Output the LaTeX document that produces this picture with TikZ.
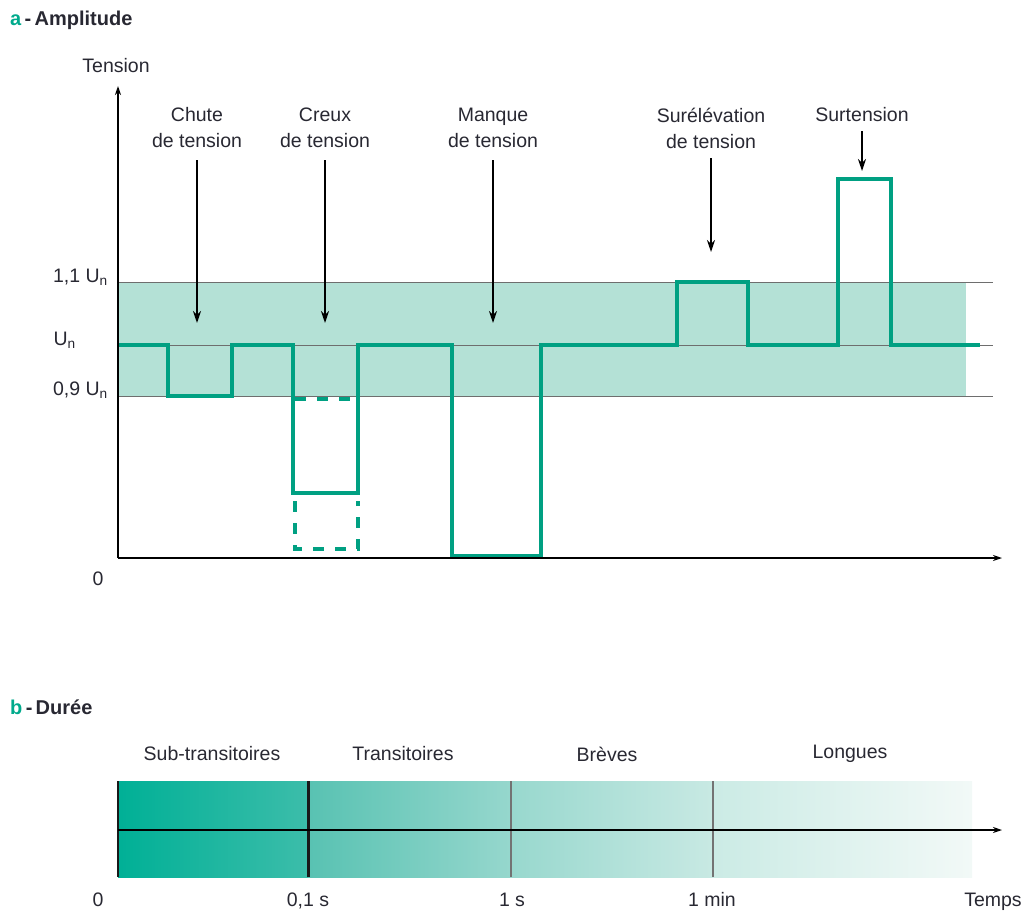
\documentclass[tikz,border=0pt]{standalone}
\usepackage{fontspec}
\setmainfont{Liberation Sans}
\usetikzlibrary{arrows.meta}
\definecolor{sig}{RGB}{0,160,130}
\definecolor{band}{RGB}{180,225,214}
\definecolor{titleg}{RGB}{0,170,140}
\definecolor{txt}{RGB}{40,40,50}
\definecolor{gline}{RGB}{110,110,110}
\tikzset{
  lbl/.style={font=\fontsize{19.5}{26}\selectfont, text=txt, align=center, inner sep=0pt},
  ttl/.style={font=\fontsize{20}{24}\selectfont\bfseries, text=txt, anchor=west, inner sep=0pt},
  axis/.style={line width=2pt, -{Stealth[length=9pt,width=6pt]}},
  pointer/.style={line width=2.2pt, -{Stealth[length=12pt,width=8pt]}},
  signal/.style={line width=3.5pt, sig, line join=miter},
  dsignal/.style={line width=3.5pt, sig, dash pattern=on 11pt off 11pt},
  refline/.style={line width=0.9pt, gline},
}
\begin{document}
\begin{tikzpicture}[x=1pt,y=-1pt]
\useasboundingbox (0,0) rectangle (1027,911);
% ---------- part a ----------
\node[ttl] (ta) at (10,20) {{\color{titleg}a}\,-\,Amplitude};
\node[lbl] (tension) at (116,66) {Tension};
% band
\fill[band] (118,282) rectangle (966,396);
\draw[refline] (118,282) -- (993,282);
\draw[refline] (118,345) -- (993,345);
\draw[refline] (118,396) -- (993,396);
\node[lbl, anchor=east] (u11) at (108,277) {1,1 U\textsubscript{n}};
\node[lbl, anchor=east] (un) at (76,340) {U\textsubscript{n}};
\node[lbl, anchor=east] (u09) at (108,390) {0,9 U\textsubscript{n}};
\node[lbl] (zeroa) at (98,579) {0};
% dashed variants
\draw[dsignal] (295,399) -- (358,399);
\draw[dsignal] (295,501) -- (295,549) -- (358,549) -- (358,501);
% signal
\draw[signal] (118,345) -- (168,345) -- (168,396) -- (232,396) -- (232,345)
  -- (293,345) -- (293,493) -- (358,493) -- (358,345) -- (452,345)
  -- (452,556) -- (541,556) -- (541,345) -- (677,345) -- (677,282)
  -- (748,282) -- (748,345) -- (838,345) -- (838,179) -- (891,179)
  -- (891,345) -- (980,345);
% axes
\coordinate (o) at (118,558);
\coordinate (ytip) at (118,86);
\coordinate (xtip) at (1002,558);
\draw[axis] (o) -- (ytip);
\draw[axis] (o) -- (xtip);
% labels and pointers
\node[lbl] (chute) at (197,128) {Chute\\de tension};
\node[lbl] (creux) at (325,128) {Creux\\de tension};
\node[lbl] (manque) at (493,128) {Manque\\de tension};
\node[lbl] (surel) at (711,128) {Surélévation\\de tension};
\node[lbl] (surt) at (862,115) {Surtension};
\coordinate (c1a) at (197,160); \coordinate (c1b) at (197,323);
\coordinate (c2a) at (325,160); \coordinate (c2b) at (325,323);
\coordinate (c3a) at (493,160); \coordinate (c3b) at (493,323);
\coordinate (c4a) at (711,158); \coordinate (c4b) at (711,252);
\coordinate (c5a) at (862,131); \coordinate (c5b) at (862,171);
\draw[pointer] (c1a) -- (c1b);
\draw[pointer] (c2a) -- (c2b);
\draw[pointer] (c3a) -- (c3b);
\draw[pointer] (c4a) -- (c4b);
\draw[pointer] (c5a) -- (c5b);
% ---------- part b ----------
\node[ttl] (tb) at (10,707) {{\color{titleg}b}\,-\,Durée};
\shade[left color={rgb,255:red,0;green,176;blue,150}, right color={rgb,255:red,60;green,189;blue,170}] (118,781) rectangle (308,877);
\shade[left color={rgb,255:red,88;green,194;blue,178}, right color={rgb,255:red,150;green,215;blue,205}] (308,781) rectangle (511,877);
\shade[left color={rgb,255:red,152;green,216;blue,206}, right color={rgb,255:red,200;green,233;blue,227}] (511,781) rectangle (713,877);
\shade[left color={rgb,255:red,203;green,235;blue,229}, right color={rgb,255:red,242;green,249;blue,247}] (713,781) rectangle (972,877);
\draw[line width=2.5pt, black!90] (118,781) -- (118,877);
\draw[line width=3pt, black!90] (308,781) -- (308,877);
\draw[line width=2pt, black!55] (511,781) -- (511,877);
\draw[line width=2pt, black!55] (713,781) -- (713,877);
\coordinate (bo) at (118,830);
\coordinate (btip) at (1002,830);
\draw[axis] (bo) -- (btip);
\node[lbl] (sub) at (212,754) {Sub-transitoires};
\node[lbl] (trans) at (403,754) {Transitoires};
\node[lbl] (brev) at (607,754) {Brèves};
\node[lbl] (long) at (850,754) {Longues};
\node[lbl, anchor=base] (z) at (98,906) {0};
\node[lbl, anchor=base] (t1) at (308,906) {0,1 s};
\node[lbl, anchor=base] (t2) at (512,906) {1 s};
\node[lbl, anchor=base] (t3) at (712,906) {1 min};
\node[lbl, anchor=base] (t4) at (993,906) {Temps};
\end{tikzpicture}
\end{document}
